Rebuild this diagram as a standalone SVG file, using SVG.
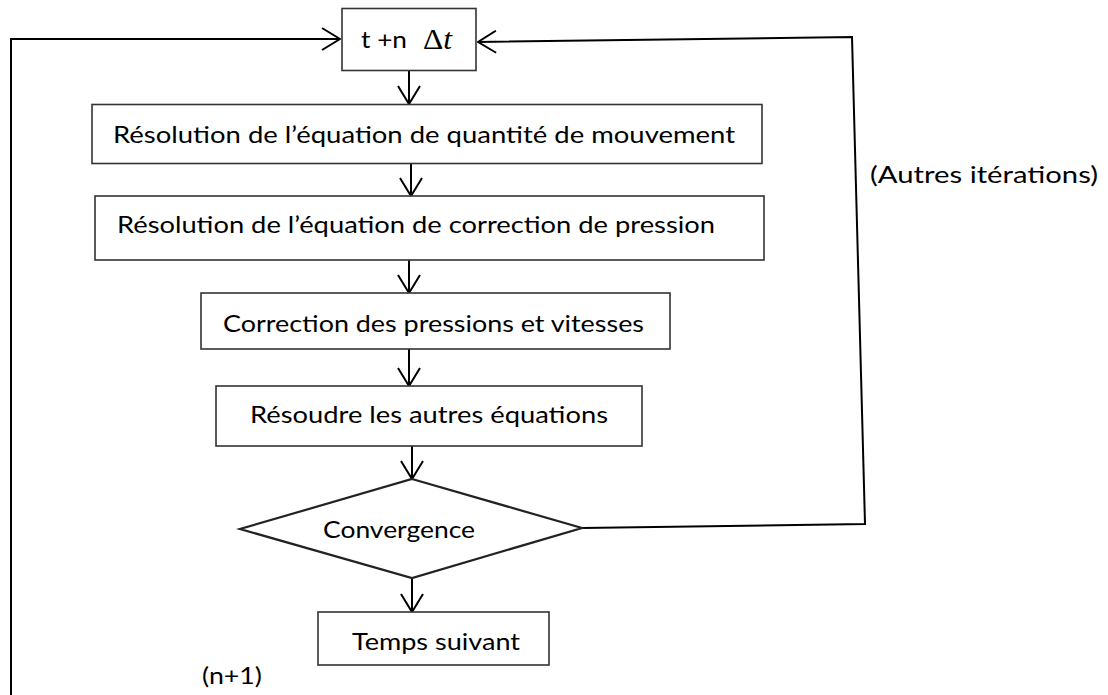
<svg xmlns="http://www.w3.org/2000/svg" width="1108" height="695" viewBox="0 0 1108 695">
<style>
.box{fill:#fff;stroke:#333;stroke-width:1.6}
.dia{fill:#fff;stroke:#222;stroke-width:2.2}
.ln{fill:none;stroke:#000;stroke-width:2}
.t{font-family:Lato,"Open Sans","Liberation Sans",sans-serif;font-size:24px;fill:#000}
.m{font-family:"Liberation Serif","DejaVu Serif",serif;font-size:29px;fill:#000}
</style>
<defs>
<marker id="arr" viewBox="0 0 20 24" refX="19" refY="12" markerWidth="20" markerHeight="24" markerUnits="userSpaceOnUse" orient="auto">
<path d="M1,1 L19,12 L1,23" fill="none" stroke="#000" stroke-width="2"/>
</marker>
</defs>
<g id="connectors">
<polyline class="ln" points="11,695 11,39 340,39" marker-end="url(#arr)"/>
<polyline class="ln" points="582,528 865,524 852,37 478,42" marker-end="url(#arr)"/>
<line class="ln" x1="409" y1="71" x2="409" y2="104" marker-end="url(#arr)"/>
<line class="ln" x1="411" y1="163" x2="411" y2="196" marker-end="url(#arr)"/>
<line class="ln" x1="409" y1="260" x2="409" y2="293" marker-end="url(#arr)"/>
<line class="ln" x1="409" y1="349" x2="409" y2="386" marker-end="url(#arr)"/>
<line class="ln" x1="412" y1="446" x2="412" y2="479" marker-end="url(#arr)"/>
<line class="ln" x1="412" y1="578" x2="412" y2="612" marker-end="url(#arr)"/>
</g>
<g id="start">
<rect class="box" x="342" y="8.5" width="134" height="62"/>
<text class="t" x="361" y="48" textLength="46" lengthAdjust="spacingAndGlyphs">t +n</text>
<text class="m" x="423" y="49" textLength="29" lengthAdjust="spacingAndGlyphs">Δ<tspan font-style="italic">t</tspan></text>
</g>
<g id="momentum">
<rect class="box" x="92" y="104.5" width="670" height="59"/>
<text class="t" x="113" y="143" textLength="622" lengthAdjust="spacingAndGlyphs">Résolution de l’équation de quantité de mouvement</text>
</g>
<g id="pressure-correction-eq">
<rect class="box" x="95" y="196" width="669" height="64"/>
<text class="t" x="117" y="233" textLength="598" lengthAdjust="spacingAndGlyphs">Résolution de l’équation de correction de pression</text>
</g>
<g id="correction">
<rect class="box" x="201" y="293" width="469" height="56"/>
<text class="t" x="223" y="332" textLength="421" lengthAdjust="spacingAndGlyphs">Correction des pressions et vitesses</text>
</g>
<g id="other-eqs">
<rect class="box" x="216" y="386" width="426" height="60"/>
<text class="t" x="250" y="423" textLength="358" lengthAdjust="spacingAndGlyphs">Résoudre les autres équations</text>
</g>
<g id="convergence">
<polygon class="dia" points="412,479 582,528 412,578 240,529"/>
<text class="t" x="323" y="538" textLength="152" lengthAdjust="spacingAndGlyphs">Convergence</text>
</g>
<g id="next-time">
<rect class="box" x="318" y="612" width="231" height="53"/>
<text class="t" x="352" y="650" textLength="168" lengthAdjust="spacingAndGlyphs">Temps suivant</text>
</g>
<g id="labels">
<text class="t" x="870" y="183" textLength="228" lengthAdjust="spacingAndGlyphs">(Autres itérations)</text>
<text class="t" x="202" y="684" textLength="60" lengthAdjust="spacingAndGlyphs">(n+1)</text>
</g>
</svg>
